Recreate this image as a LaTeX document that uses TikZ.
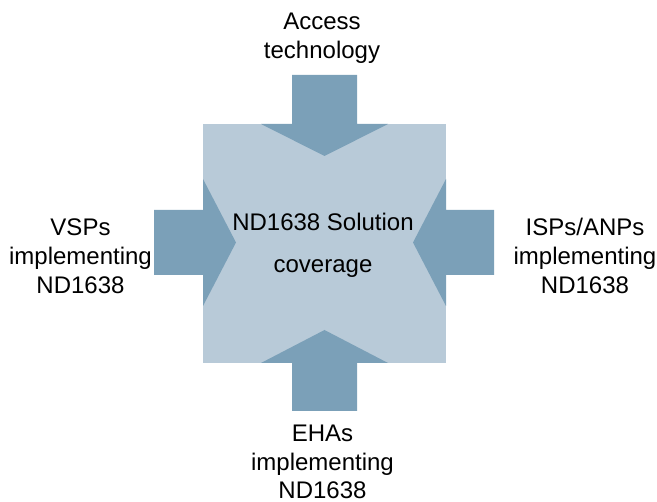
\documentclass[tikz,border=0pt]{standalone}
\usepackage{fontspec}
\setmainfont{Liberation Sans}
\definecolor{coreblue}{RGB}{184,202,216}
\definecolor{arrowblue}{RGB}{123,160,184}
\begin{document}
\begin{tikzpicture}[x=1pt,y=-1pt,
  lbl/.style={font=\fontsize{24}{28.8}\selectfont, align=center, inner sep=0pt, text=black, anchor=base},
  pad/.style={fill=coreblue, draw=none, inner sep=0pt},
  push/.style={fill=arrowblue, draw=none}]
\useasboundingbox (0,0) rectangle (657,502);
% central coverage square
\node[pad, minimum width=243pt, minimum height=239pt, anchor=north west] (core) at (203,124) {};
% four block arrows pushing into the square
\fill[push] (292,75) -- (357,75) -- (357,124) -- (388,124) -- (324.5,156) -- (261,124) -- (292,124) -- cycle;
\fill[push] (154,210) -- (203,210) -- (203,179) -- (236,242.5) -- (203,306) -- (203,275) -- (154,275) -- cycle;
\fill[push] (494,210) -- (446,210) -- (446,179) -- (413,242.5) -- (446,306) -- (446,275) -- (494,275) -- cycle;
\fill[push] (292,411) -- (357,411) -- (357,363) -- (388,363) -- (324.5,330) -- (261,363) -- (292,363) -- cycle;
% labels (base anchor sits on the last line)
\node[lbl] (center) at (323,272.3) {ND1638 Solution\\[12.8pt]coverage};
\node[lbl] (top) at (322,58.5) {Access\\technology};
\node[lbl] (left) at (80.5,293.3) {VSPs\\implementing\\ND1638};
\node[lbl] (right) at (585,293.3) {ISPs/ANPs\\implementing\\ND1638};
\node[lbl] (bottom) at (322.5,499) {EHAs\\implementing\\ND1638};
\end{tikzpicture}
\end{document}
